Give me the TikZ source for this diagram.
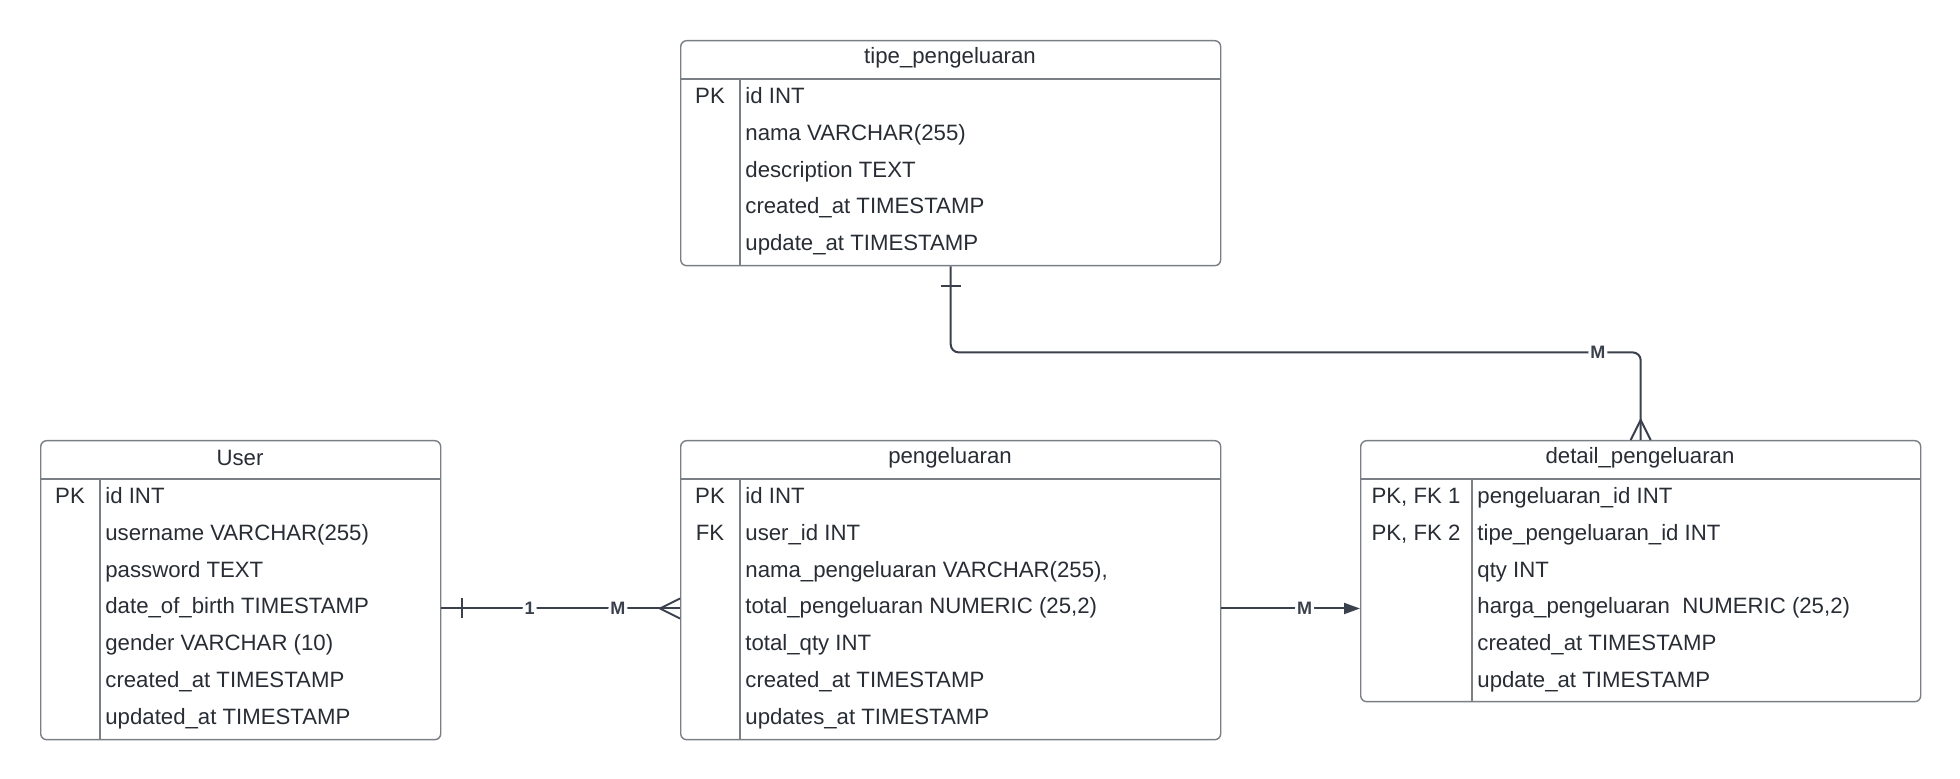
\documentclass[tikz,border=0pt]{standalone}
\usepackage{fontspec}
\setmainfont{Liberation Sans}
\usepackage{xcolor}
\usetikzlibrary{arrows.meta}
\definecolor{tblgray}{RGB}{122,126,133}
\definecolor{inkdark}{RGB}{40,44,52}
\definecolor{relline}{RGB}{58,64,76}
\tikzstyle{table} = [rectangle, rounded corners=3pt, draw=tblgray, line width=0.7pt, anchor=north west, inner sep=0pt]
\tikzstyle{tline} = [draw=tblgray, line width=0.7pt]
\tikzstyle{title} = [inner sep=0pt, text=inkdark, font=\fontsize{11.1}{13}\selectfont]
\tikzstyle{field} = [anchor=west, inner sep=0pt, text height=8pt, text depth=2.5pt, text=inkdark, font=\fontsize{11.1}{13}\selectfont]
\tikzstyle{keycol} = [inner sep=0pt, text height=8pt, text depth=2.5pt, text=inkdark, font=\fontsize{11.1}{13}\selectfont]
\tikzstyle{rel} = [draw=relline, line width=1pt, rounded corners=4pt]
\tikzstyle{onebar} = [draw=relline, line width=1pt]
\tikzstyle{card} = [fill=white, inner sep=1pt, text=relline, font=\fontsize{9}{10}\selectfont\bfseries]
\tikzstyle{arrow} = [-{Triangle[length=8pt,width=5.5pt]}]

\begin{document}
\begin{tikzpicture}[x=0.5pt, y=-0.5pt]
\useasboundingbox (0,0) rectangle (1960,779);

% tables
\node (tipe) [table, minimum width=270pt, minimum height=112.5pt] at (680,40) {};
\node (user) [table, minimum width=200pt, minimum height=149.5pt] at (40,440) {};
\node (peng) [table, minimum width=270pt, minimum height=149.5pt] at (680,440) {};
\node (detail) [table, minimum width=280pt, minimum height=130.5pt] at (1360,440) {};

\draw [tline] (680,79) -- (1220,79);
\draw [tline] (740,79) -- (740,265);
\draw [tline] (40,479) -- (440,479);
\draw [tline] (100,479) -- (100,739);
\draw [tline] (680,479) -- (1220,479);
\draw [tline] (740,479) -- (740,739);
\draw [tline] (1360,479) -- (1920,479);
\draw [tline] (1472,479) -- (1472,701);

% tipe_pengeluaran
\node (tipet) [title] at (950,58) {tipe\_pengeluaran};
\node (tk1) [keycol] at (710,98) {PK};
\node (t1) [field] at (745,98) {id INT};
\node (t2) [field] at (745,135) {nama VARCHAR(255)};
\node (t3) [field] at (745,172) {description TEXT};
\node (t4) [field] at (745,208.5) {created\_at TIMESTAMP};
\node (t5) [field] at (745,245.5) {update\_at TIMESTAMP};

% User
\node (usert) [title] at (240,458) {User};
\node (uk1) [keycol] at (70,498) {PK};
\node (u1) [field] at (105,498) {id INT};
\node (u2) [field] at (105,535) {username VARCHAR(255)};
\node (u3) [field] at (105,572) {password TEXT};
\node (u4) [field] at (105,608.5) {date\_of\_birth TIMESTAMP};
\node (u5) [field] at (105,645.5) {gender VARCHAR (10)};
\node (u6) [field] at (105,682.5) {created\_at TIMESTAMP};
\node (u7) [field] at (105,719.5) {updated\_at TIMESTAMP};

% pengeluaran
\node (pengt) [title] at (950,458) {pengeluaran};
\node (pk1) [keycol] at (710,498) {PK};
\node (pk2) [keycol] at (710,535) {FK};
\node (p1) [field] at (745,498) {id INT};
\node (p2) [field] at (745,535) {user\_id INT};
\node (p3) [field] at (745,572) {nama\_pengeluaran VARCHAR(255),};
\node (p4) [field] at (745,608.5) {total\_pengeluaran NUMERIC (25,2)};
\node (p5) [field] at (745,645.5) {total\_qty INT};
\node (p6) [field] at (745,682.5) {created\_at TIMESTAMP};
\node (p7) [field] at (745,719.5) {updates\_at TIMESTAMP};

% detail_pengeluaran
\node (detailt) [title] at (1640,458) {detail\_pengeluaran};
\node (dk1) [keycol] at (1416,498) {PK, FK 1};
\node (dk2) [keycol] at (1416,535) {PK, FK 2};
\node (d1) [field] at (1477,498) {pengeluaran\_id INT};
\node (d2) [field] at (1477,535) {tipe\_pengeluaran\_id INT};
\node (d3) [field] at (1477,572) {qty INT};
\node (d4) [field] at (1477,608.5) {harga\_pengeluaran\ \ NUMERIC (25,2)};
\node (d5) [field] at (1477,645.5) {created\_at TIMESTAMP};
\node (d6) [field] at (1477,682.5) {update\_at TIMESTAMP};

% relations
\coordinate (uj) at (user.east |- u4);
\coordinate (pj) at (peng.west |- u4);
\coordinate (bend) at ([yshift=-43pt]tipe.south);

\draw [rel] (uj) -- node[card, pos=0.37] {1} node[card, pos=0.74] {M} (pj);
\draw [onebar] ([xshift=10.5pt,yshift=5pt]uj) -- ([xshift=10.5pt,yshift=-5pt]uj);
\draw [onebar] ([yshift=5pt]pj) -- ([xshift=-10pt]pj) -- ([yshift=-5pt]pj);

\draw [rel, arrow] (peng.east |- p4) -- node[card, pos=0.6] {M} (detail.west |- p4);

\draw [rel] (tipe.south) -- (bend) -- node[card, pos=0.938] {M} (bend -| detail.north) -- (detail.north);
\draw [onebar] ([xshift=-5pt,yshift=-10pt]tipe.south) -- ([xshift=5pt,yshift=-10pt]tipe.south);
\draw [onebar] ([xshift=-5pt]detail.north) -- ([yshift=10pt]detail.north) -- ([xshift=5pt]detail.north);
\end{tikzpicture}
\end{document}
